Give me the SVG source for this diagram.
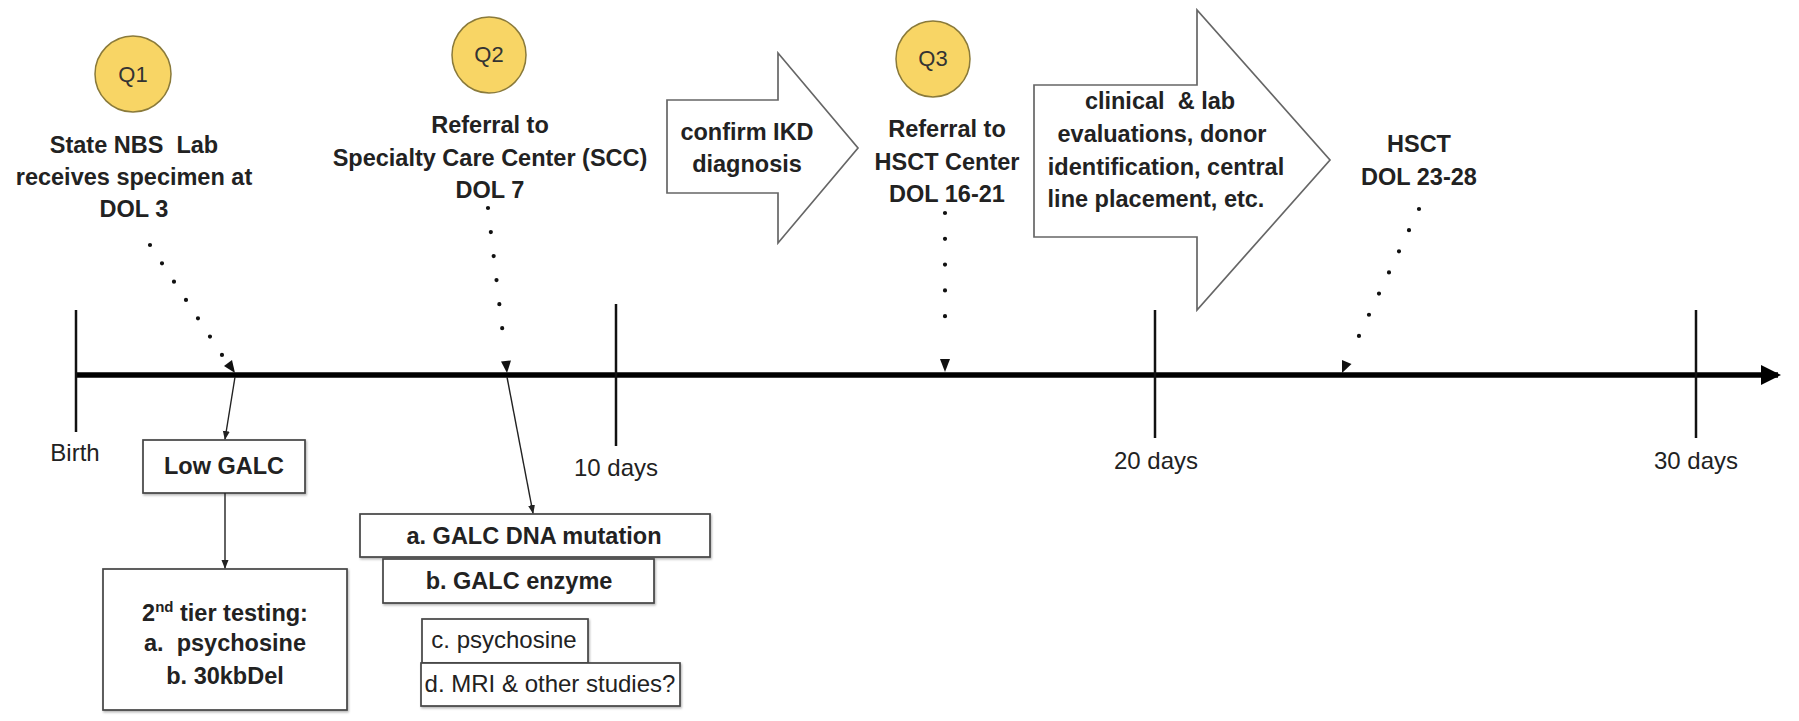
<svg xmlns="http://www.w3.org/2000/svg" width="1799" height="721" viewBox="0 0 1799 721">
<style>
.b{font-family:"Liberation Sans",Arial,sans-serif;font-weight:bold;font-size:23.5px;fill:#222;text-anchor:middle}
.r{font-family:"Liberation Sans",Arial,sans-serif;font-size:24px;fill:#222;text-anchor:middle}
.q{font-family:"Liberation Sans",Arial,sans-serif;font-size:22px;fill:#333;text-anchor:middle}
.circ{fill:#F8D565;stroke:#8a7a3a;stroke-width:1.5}
.box{fill:#fff;stroke:#444;stroke-width:1.7;filter:url(#sh)}
.shape{fill:#fff;stroke:#666;stroke-width:1.7}
.dot{fill:none;stroke:#111;stroke-width:4.2;stroke-linecap:round}
.thin{fill:none;stroke:#222;stroke-width:1.4}
.tick{stroke:#111;stroke-width:2.5}
.hd{fill:#111}
</style>
<defs>
<filter id="sh" x="-5%" y="-10%" width="115%" height="130%">
<feDropShadow dx="1" dy="1.5" stdDeviation="1.2" flood-color="#000" flood-opacity="0.3"/>
</filter>
<marker id="ahs" markerWidth="9" markerHeight="8" refX="8" refY="4" orient="auto" markerUnits="userSpaceOnUse">
<path d="M0,0.5 L9,4 L0,7.5 Z" fill="#222"/>
</marker>
<marker id="big" markerWidth="20" markerHeight="20" refX="17" refY="10" orient="auto" markerUnits="userSpaceOnUse">
<path d="M0,0 L20,10 L0,20 Z" fill="#000"/>
</marker>
</defs>
<rect width="1799" height="721" fill="#fff"/>

<g id="timeline">
<line x1="76" y1="375" x2="1778" y2="375" stroke="#000" stroke-width="5.5" marker-end="url(#big)"/>
<line class="tick" x1="76" y1="310" x2="76" y2="432"/>
<line class="tick" x1="616" y1="304" x2="616" y2="446"/>
<line class="tick" x1="1155" y1="310" x2="1155" y2="438"/>
<line class="tick" x1="1696" y1="310" x2="1696" y2="438"/>
<text class="r" x="75" y="461">Birth</text>
<text class="r" x="616" y="476">10 days</text>
<text class="r" x="1156" y="469">20 days</text>
<text class="r" x="1696" y="469">30 days</text>
</g>

<g id="q1">
<ellipse class="circ" cx="133" cy="74" rx="38" ry="38"/>
<text class="q" x="133" y="82">Q1</text>
<text class="b" x="134" y="153">State NBS&#160; Lab</text>
<text class="b" x="134" y="185">receives specimen at</text>
<text class="b" x="134" y="217">DOL 3</text>
</g>

<g id="q2">
<ellipse class="circ" cx="489" cy="55" rx="37" ry="38"/>
<text class="q" x="489" y="62">Q2</text>
<text class="b" x="490" y="133">Referral to</text>
<text class="b" x="490" y="166">Specialty Care Center (SCC)</text>
<text class="b" x="490" y="198">DOL 7</text>
</g>

<g id="confirm">
<path class="shape" d="M667,100 L778,100 L778,53 L858,148 L778,243 L778,193 L667,193 Z"/>
<text class="b" x="747" y="140">confirm IKD</text>
<text class="b" x="747" y="172">diagnosis</text>
</g>

<g id="q3">
<ellipse class="circ" cx="933" cy="59" rx="37" ry="38"/>
<text class="q" x="933" y="66">Q3</text>
<text class="b" x="947" y="137">Referral to</text>
<text class="b" x="947" y="170">HSCT Center</text>
<text class="b" x="947" y="202">DOL 16-21</text>
</g>

<g id="workup">
<path class="shape" d="M1034,85 L1197,85 L1197,10 L1330,160 L1197,310 L1197,237 L1034,237 Z"/>
<text class="b" x="1160" y="109">clinical&#160; &amp; lab</text>
<text class="b" x="1162" y="142">evaluations, donor</text>
<text class="b" x="1166" y="175">identification, central</text>
<text class="b" x="1156" y="207">line placement, etc.</text>
</g>

<g id="hsct">
<text class="b" x="1419" y="152">HSCT</text>
<text class="b" x="1419" y="185">DOL 23-28</text>
</g>

<g id="lowgalc">
<rect class="box" x="143" y="440" width="162" height="53"/>
<text class="b" x="224" y="474">Low GALC</text>
</g>

<g id="tier2">
<rect class="box" x="103" y="569" width="244" height="141"/>
<text class="b" x="225" y="621">2<tspan font-size="15" dy="-9">nd</tspan><tspan dy="9"> tier testing:</tspan></text>
<text class="b" x="225" y="651">a.&#160; psychosine</text>
<text class="b" x="225" y="684">b. 30kbDel</text>
</g>

<g id="dna">
<rect class="box" x="360" y="514" width="350" height="43"/>
<text class="b" x="534" y="544">a. GALC DNA mutation</text>
</g>
<g id="enzyme">
<rect class="box" x="383" y="559" width="271" height="44"/>
<text class="b" x="519" y="589">b. GALC enzyme</text>
</g>
<g id="psych">
<rect class="box" x="422" y="619" width="166" height="44"/>
<text class="r" x="504" y="648">c. psychosine</text>
</g>
<g id="mri">
<rect class="box" x="421" y="663" width="259" height="43"/>
<text class="r" x="550" y="692">d. MRI &amp; other studies?</text>
</g>

<g id="connectors">
<line class="dot" x1="150" y1="245" x2="222" y2="355" stroke-dasharray="0 21.9"/>
<path class="hd" d="M235,373 L224,366 L232,360 Z"/>
<line class="dot" x1="488" y1="208" x2="505" y2="352" stroke-dasharray="0 24.2"/>
<path class="hd" d="M507,373 L501,361.5 L511,360.5 Z"/>
<line class="dot" x1="945" y1="213" x2="945" y2="342" stroke-dasharray="0 25.8"/>
<path class="hd" d="M945,372 L940,359 L950,359 Z"/>
<line class="dot" x1="1419" y1="209" x2="1349" y2="357" stroke-dasharray="0 23.4"/>
<path class="hd" d="M1342,373 L1342,360 L1351.5,364 Z"/>
<line class="thin" x1="235" y1="377" x2="225" y2="439" marker-end="url(#ahs)"/>
<line class="thin" x1="225" y1="493" x2="225" y2="568" marker-end="url(#ahs)"/>
<line class="thin" x1="507" y1="377" x2="533" y2="513" marker-end="url(#ahs)"/>
</g>
</svg>
